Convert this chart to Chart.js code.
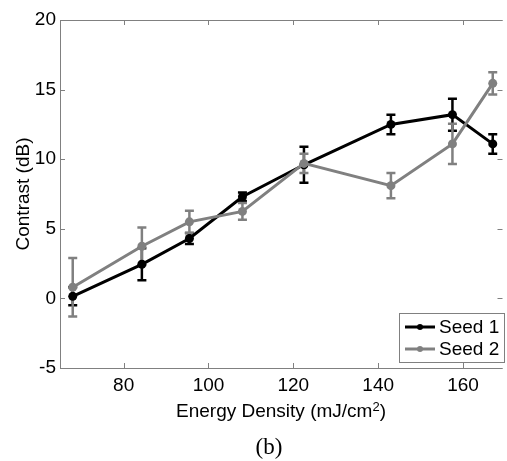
<!DOCTYPE html>
<html>
<head>
<meta charset="utf-8">
<script src="https://cdn.jsdelivr.net/npm/chart.js@4.4.1/dist/chart.umd.min.js"></script>
<style>
  body { margin: 0; background: #fff; }
  #wrap { width: 507px; height: 461px; position: relative; }
</style>
</head>
<body>
<div id="wrap"><canvas id="ContrastChart"></canvas></div>
<script>
const energy = [68, 84.3, 95.5, 108, 122.5, 143, 157.5, 167];
const seed1 = [0.15, 2.45, 4.3, 7.3, 9.6, 12.5, 13.2, 11.1];
const seed1Err = [0.65, 1.15, 0.4, 0.3, 1.3, 0.7, 1.15, 0.7];
const seed2 = [0.8, 3.75, 5.5, 6.25, 9.7, 8.1, 11.1, 15.45];
const seed2Err = [2.1, 1.35, 0.8, 0.6, 0.7, 0.9, 1.45, 0.8];
const xTicks = [80, 100, 120, 140, 160];
const yTicks = [-5, 0, 5, 10, 15, 20];

const AXIS_GRAY = '#808080';
const FONT = '"Liberation Sans", Arial, sans-serif';

const toPoints = (ys) => ys.map((y, i) => ({ x: energy[i], y: y }));

// error bars, drawn under the lines
const errorBars = {
  id: 'errorBars',
  beforeDatasetsDraw(chart) {
    const { ctx, scales: { x, y } } = chart;
    const sets = [[seed1, seed1Err, '#000000'], [seed2, seed2Err, AXIS_GRAY]];
    ctx.save();
    ctx.lineWidth = 2.5;
    sets.forEach(([vals, errs, color]) => {
      ctx.strokeStyle = color;
      vals.forEach((v, i) => {
        const px = x.getPixelForValue(energy[i]);
        const top = y.getPixelForValue(v + errs[i]);
        const bot = y.getPixelForValue(v - errs[i]);
        ctx.beginPath();
        ctx.moveTo(px, top); ctx.lineTo(px, bot);
        ctx.moveTo(px - 4.5, top); ctx.lineTo(px + 4.5, top);
        ctx.moveTo(px - 4.5, bot); ctx.lineTo(px + 4.5, bot);
        ctx.stroke();
      });
    });
    ctx.restore();
  }
};

// matlab style box, inward ticks, titles and legend
const frame = {
  id: 'frame',
  afterDraw(chart) {
    const { ctx, chartArea: a, scales: { x, y } } = chart;
    ctx.save();
    ctx.strokeStyle = AXIS_GRAY;
    ctx.lineWidth = 1;
    ctx.beginPath();
    ctx.moveTo(a.left + 0.5, a.top + 0.5);
    ctx.lineTo(a.right, a.top + 0.5);
    ctx.moveTo(a.left + 0.5, a.top);
    ctx.lineTo(a.left + 0.5, a.bottom + 0.5);
    ctx.lineTo(a.right, a.bottom + 0.5);
    xTicks.forEach(t => {
      const px = Math.round(x.getPixelForValue(t)) + 0.5;
      ctx.moveTo(px, a.bottom); ctx.lineTo(px, a.bottom - 5);
      ctx.moveTo(px, a.top); ctx.lineTo(px, a.top + 5);
    });
    yTicks.forEach(t => {
      const py = Math.round(y.getPixelForValue(t)) + 0.5;
      ctx.moveTo(a.left, py); ctx.lineTo(a.left + 5, py);
      ctx.moveTo(a.right, py); ctx.lineTo(a.right - 5, py);
    });
    ctx.stroke();

    // y title
    ctx.fillStyle = '#000';
    ctx.font = '19px ' + FONT;
    ctx.save();
    ctx.translate(29, (a.top + a.bottom) / 2);
    ctx.rotate(-Math.PI / 2);
    ctx.textAlign = 'center';
    ctx.textBaseline = 'alphabetic';
    ctx.fillText('Contrast (dB)', 0, 0);
    ctx.restore();

    // x title with superscript
    const main = 'Energy Density (mJ/cm';
    ctx.font = '19px ' + FONT;
    const w1 = ctx.measureText(main).width;
    ctx.font = '13px ' + FONT;
    const w2 = ctx.measureText('2').width;
    ctx.font = '19px ' + FONT;
    const w3 = ctx.measureText(')').width;
    let sx = 281 - (w1 + w2 + w3) / 2;
    ctx.textAlign = 'left';
    ctx.fillText(main, sx, 417);
    ctx.font = '13px ' + FONT;
    ctx.fillText('2', sx + w1, 411);
    ctx.font = '19px ' + FONT;
    ctx.fillText(')', sx + w1 + w2, 417);

    // panel label
    ctx.font = '23px "Liberation Serif", "DejaVu Serif", serif';
    ctx.textAlign = 'center';
    ctx.fillText('(b)', 269, 454);

    // legend
    const lx = 399, ly = 313, lw = 105, lh = 49;
    ctx.fillStyle = '#fff';
    ctx.fillRect(lx, ly, lw, lh);
    ctx.strokeStyle = AXIS_GRAY;
    ctx.lineWidth = 1;
    ctx.strokeRect(lx + 0.5, ly + 0.5, lw, lh);
    chart.data.datasets.forEach((ds, i) => {
      const cy = ly + 14 + i * 22;
      ctx.strokeStyle = ds.borderColor;
      ctx.lineWidth = 3;
      ctx.beginPath();
      ctx.moveTo(405, cy); ctx.lineTo(435, cy);
      ctx.stroke();
      ctx.fillStyle = ds.borderColor;
      ctx.beginPath();
      ctx.arc(420, cy, 3, 0, Math.PI * 2);
      ctx.fill();
      ctx.fillStyle = '#000';
      ctx.font = '19px ' + FONT;
      ctx.textAlign = 'left';
      ctx.textBaseline = 'middle';
      ctx.fillText(ds.label, 439, cy + 1);
    });
    ctx.restore();
  }
};

new Chart(document.getElementById('ContrastChart'), {
  type: 'line',
  data: {
    datasets: [{
      label: 'Seed 1',
      data: toPoints(seed1),
      borderColor: '#000000',
      backgroundColor: '#000000',
      borderWidth: 3,
      pointRadius: 4.5,
      pointBorderWidth: 0,
      order: 1
    }, {
      label: 'Seed 2',
      data: toPoints(seed2),
      borderColor: AXIS_GRAY,
      backgroundColor: AXIS_GRAY,
      borderWidth: 3,
      pointRadius: 4.5,
      pointBorderWidth: 0,
      order: 0
    }]
  },
  options: {
    responsive: true,
    maintainAspectRatio: false,
    animation: false,
    devicePixelRatio: 1,
    layout: { padding: { top: 20, right: 0, left: 0, bottom: 0 } },
    plugins: {
      legend: { display: false },
      tooltip: { enabled: false }
    },
    scales: {
      x: {
        type: 'linear',
        min: 65,
        max: 169.3,
        afterBuildTicks: (s) => { s.ticks = xTicks.map(v => ({ value: v })); },
        afterFit: (s) => { s.height = 93; },
        grid: { display: false, drawTicks: false },
        border: { display: false },
        ticks: { color: '#000', font: { family: FONT, size: 19 }, padding: 6, maxRotation: 0 }
      },
      y: {
        min: -5,
        max: 20,
        afterBuildTicks: (s) => { s.ticks = yTicks.map(v => ({ value: v })); },
        afterFit: (s) => { s.width = 60; },
        grid: { display: false, drawTicks: false },
        border: { display: false },
        ticks: { color: '#000', font: { family: FONT, size: 19 }, padding: 4 }
      }
    }
  },
  plugins: [errorBars, frame]
});
</script>
</body>
</html>
